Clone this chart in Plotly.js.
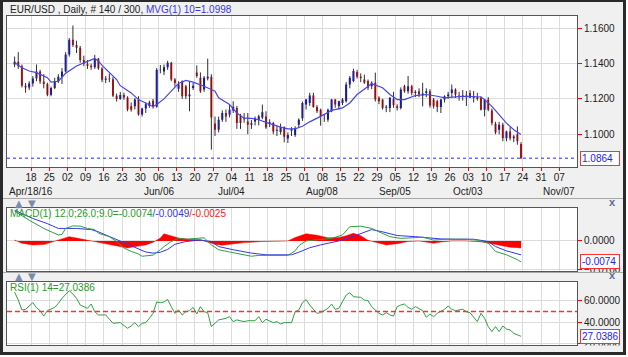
<!DOCTYPE html>
<html><head><meta charset="utf-8">
<script src="https://cdn.plot.ly/plotly-3.0.1.min.js"></script>
<style>
html,body{margin:0;padding:0;background:#ffffff;}
#wrap{position:relative;width:628px;height:357px;overflow:hidden;background:#ffffff;}
#chart{width:628px;height:357px;}
#frame{position:absolute;left:0;top:0;width:626px;height:355px;box-sizing:border-box;border:3px solid #2a2a2a;border-top-width:2px;pointer-events:none;}
#padr{position:absolute;left:626px;top:0;width:2px;height:357px;background:#ffffff;}
#padb{position:absolute;left:0;top:355px;width:628px;height:2px;background:#ffffff;}
</style></head><body>
<div id="wrap"><div id="chart"></div><div id="frame"></div><div id="padr"></div><div id="padb"></div></div>
<script>
const dates = [
"2016-04-11","2016-04-12","2016-04-13","2016-04-14","2016-04-15",
"2016-04-18","2016-04-19","2016-04-20","2016-04-21","2016-04-22",
"2016-04-25","2016-04-26","2016-04-27","2016-04-28","2016-04-29",
"2016-05-02","2016-05-03","2016-05-04","2016-05-05","2016-05-06",
"2016-05-09","2016-05-10","2016-05-11","2016-05-12","2016-05-13",
"2016-05-16","2016-05-17","2016-05-18","2016-05-19","2016-05-20",
"2016-05-23","2016-05-24","2016-05-25","2016-05-26","2016-05-27",
"2016-05-30","2016-05-31","2016-06-01","2016-06-02","2016-06-03",
"2016-06-06","2016-06-07","2016-06-08","2016-06-09","2016-06-10",
"2016-06-13","2016-06-14","2016-06-15","2016-06-16","2016-06-17",
"2016-06-20","2016-06-21","2016-06-22","2016-06-23","2016-06-24",
"2016-06-27","2016-06-28","2016-06-29","2016-06-30","2016-07-01",
"2016-07-04","2016-07-05","2016-07-06","2016-07-07","2016-07-08",
"2016-07-11","2016-07-12","2016-07-13","2016-07-14","2016-07-15",
"2016-07-18","2016-07-19","2016-07-20","2016-07-21","2016-07-22",
"2016-07-25","2016-07-26","2016-07-27","2016-07-28","2016-07-29",
"2016-08-01","2016-08-02","2016-08-03","2016-08-04","2016-08-05",
"2016-08-08","2016-08-09","2016-08-10","2016-08-11","2016-08-12",
"2016-08-15","2016-08-16","2016-08-17","2016-08-18","2016-08-19",
"2016-08-22","2016-08-23","2016-08-24","2016-08-25","2016-08-26",
"2016-08-29","2016-08-30","2016-08-31","2016-09-01","2016-09-02",
"2016-09-05","2016-09-06","2016-09-07","2016-09-08","2016-09-09",
"2016-09-12","2016-09-13","2016-09-14","2016-09-15","2016-09-16",
"2016-09-19","2016-09-20","2016-09-21","2016-09-22","2016-09-23",
"2016-09-26","2016-09-27","2016-09-28","2016-09-29","2016-09-30",
"2016-10-03","2016-10-04","2016-10-05","2016-10-06","2016-10-07",
"2016-10-10","2016-10-11","2016-10-12","2016-10-13","2016-10-14",
"2016-10-17","2016-10-18","2016-10-19","2016-10-20","2016-10-21"];

const openP = [
1.1395,1.1410,1.1385,1.1275,1.1265, 1.1287,1.1315,1.1355,1.1298,1.1285,
1.1223,1.1262,1.1300,1.1325,1.1355, 1.1452,1.1535,1.1505,1.1490,1.1420,
1.1400,1.1388,1.1380,1.1428,1.1373, 1.1308,1.1315,1.1312,1.1218,1.1200,
1.1222,1.1208,1.1158,1.1158,1.1196, 1.1112,1.1145,1.1160,1.1190,1.1155,
1.1366,1.1355,1.1380,1.1405,1.1310, 1.1258,1.1300,1.1272,1.1215,1.1262,
1.1350,1.1320,1.1253,1.1315,1.1326, 1.1060,1.1025,1.1082,1.1120,1.1110,
1.1135,1.1149,1.1105,1.1090,1.1072, 1.1053,1.1072,1.1082,1.1095,1.1100,
1.1060,1.1063,1.1020,1.1012,1.1040, 1.0975,1.1020,1.0996,1.1053,1.1091,
1.1168,1.1177,1.1219,1.1154,1.1139, 1.1092,1.1082,1.1130,1.1196,1.1158,
1.1177,1.1187,1.1282,1.1301,1.1352, 1.1325,1.1310,1.1301,1.1272,1.1291,
1.1206,1.1196,1.1150,1.1149,1.1200, 1.1158,1.1149,1.1272,1.1244,1.1272,
1.1234,1.1244,1.1220,1.1234,1.1244, 1.1196,1.1187,1.1154,1.1196,1.1215,
1.1234,1.1253,1.1220,1.1215,1.1220, 1.1234,1.1206,1.1210,1.1206,1.1139,
1.1196,1.1135,1.1059,1.1025,1.1053, 1.0977,1.1015,1.0977,1.1000,1.0945];
const highP = [
1.1440,1.1465,1.1395,1.1290,1.1300, 1.1330,1.1395,1.1365,1.1340,1.1292,
1.1270,1.1320,1.1340,1.1375,1.1465, 1.1545,1.1616,1.1530,1.1500,1.1445,
1.1420,1.1400,1.1450,1.1432,1.1380, 1.1330,1.1345,1.1325,1.1230,1.1240,
1.1235,1.1215,1.1180,1.1205,1.1215, 1.1150,1.1180,1.1190,1.1200,1.1375,
1.1392,1.1395,1.1416,1.1410,1.1318, 1.1300,1.1305,1.1280,1.1300,1.1290,
1.1390,1.1350,1.1330,1.1428,1.1340, 1.1100,1.1100,1.1135,1.1140,1.1165,
1.1187,1.1160,1.1115,1.1120,1.1120, 1.1080,1.1100,1.1110,1.1168,1.1130,
1.1085,1.1070,1.1045,1.1060,1.1045, 1.1010,1.1040,1.1045,1.1090,1.1185,
1.1200,1.1235,1.1235,1.1165,1.1145, 1.1110,1.1145,1.1200,1.1200,1.1190,
1.1205,1.1295,1.1330,1.1371,1.1365, 1.1345,1.1338,1.1310,1.1300,1.1349,
1.1215,1.1200,1.1165,1.1210,1.1240, 1.1170,1.1265,1.1280,1.1330,1.1280,
1.1250,1.1260,1.1291,1.1260,1.1255, 1.1205,1.1195,1.1200,1.1220,1.1240,
1.1282,1.1260,1.1240,1.1250,1.1245, 1.1250,1.1245,1.1235,1.1215,1.1200,
1.1210,1.1145,1.1070,1.1070,1.1065, 1.1020,1.1040,1.0995,1.1044,1.0955];
const lowP = [
1.1380,1.1370,1.1265,1.1235,1.1250, 1.1270,1.1300,1.1285,1.1260,1.1215,
1.1215,1.1255,1.1290,1.1285,1.1350, 1.1440,1.1495,1.1460,1.1405,1.1385,
1.1370,1.1365,1.1370,1.1365,1.1295, 1.1290,1.1295,1.1210,1.1185,1.1195,
1.1195,1.1130,1.1128,1.1140,1.1105, 1.1100,1.1120,1.1150,1.1145,1.1150,
1.1345,1.1335,1.1365,1.1300,1.1270, 1.1240,1.1200,1.1200,1.1130,1.1250,
1.1320,1.1234,1.1240,1.1305,1.0912, 1.0990,1.1010,1.1070,1.1070,1.1095,
1.1120,1.1030,1.1030,1.1065,1.1000, 1.1030,1.1050,1.1050,1.1085,1.1030,
1.1040,1.1000,1.0990,1.0998,1.0954, 1.0950,1.0990,1.0985,1.1040,1.1075,
1.1140,1.1160,1.1150,1.1120,1.1048, 1.1070,1.1070,1.1125,1.1150,1.1140,
1.1165,1.1180,1.1260,1.1295,1.1315, 1.1295,1.1285,1.1250,1.1255,1.1185,
1.1170,1.1140,1.1125,1.1125,1.1150, 1.1135,1.1140,1.1235,1.1230,1.1220,
1.1210,1.1210,1.1158,1.1210,1.1150, 1.1145,1.1125,1.1120,1.1180,1.1200,
1.1210,1.1205,1.1190,1.1190,1.1160, 1.1205,1.1180,1.1190,1.1135,1.1101,
1.1130,1.1050,1.1000,1.1000,1.0960, 1.0960,1.0965,1.0955,1.0940,1.0859];
const closeP = [
1.1410,1.1385,1.1275,1.1265,1.1287, 1.1315,1.1355,1.1298,1.1285,1.1223,
1.1262,1.1300,1.1325,1.1355,1.1452, 1.1535,1.1505,1.1490,1.1420,1.1400,
1.1388,1.1380,1.1428,1.1373,1.1308, 1.1315,1.1312,1.1218,1.1200,1.1222,
1.1208,1.1140,1.1138,1.1196,1.1112, 1.1145,1.1170,1.1180,1.1155,1.1366,
1.1362,1.1380,1.1405,1.1310,1.1290, 1.1282,1.1215,1.1215,1.1225,1.1275,
1.1330,1.1244,1.1320,1.1326,1.1095, 1.1025,1.1082,1.1120,1.1100,1.1139,
1.1155,1.1063,1.1063,1.1085,1.1053, 1.1062,1.1091,1.1101,1.1125,1.1038,
1.1068,1.1015,1.1025,1.1040,1.0985, 1.0995,1.1028,1.1034,1.1082,1.1177,
1.1196,1.1219,1.1154,1.1130,1.1101, 1.1090,1.1139,1.1196,1.1168,1.1187,
1.1196,1.1282,1.1320,1.1358,1.1326, 1.1318,1.1291,1.1263,1.1291,1.1196,
1.1187,1.1149,1.1155,1.1206,1.1165, 1.1149,1.1253,1.1244,1.1272,1.1234,
1.1240,1.1225,1.1230,1.1244,1.1162, 1.1158,1.1154,1.1196,1.1215,1.1225,
1.1253,1.1225,1.1215,1.1220,1.1210, 1.1206,1.1215,1.1200,1.1139,1.1196,
1.1139,1.1063,1.1010,1.1053,1.0977, 1.1015,1.0977,1.0987,1.0960,1.0864];

// 10-day moving average, read at selected bars (bar index -> value)
const maIdx  = [0,2,4,6,9,10,12,14,17,19,21,22,23,24,26,28,29,32,34,36,38,39,41,43,45,47,49,52,55,56,59,61,63,65,67,69,71,73,75,77,79,81,84,87,90,92,94,97,98,101,103,105,107,110,113,116,118,121,124,128,129,131,133,135,137,139];
const maVals = [1.1406,1.1377,1.1358,1.1349,1.1320,1.1295,1.1300,1.1345,1.1387,1.1406,1.1421,1.1429,1.1415,1.1390,1.1349,1.1310,1.1275,1.1234,1.1196,1.1177,1.1156,1.1168,1.1200,1.1244,1.1288,1.1305,1.1295,1.1272,1.1244,1.1206,1.1168,1.1120,1.1091,1.1090,1.1082,1.1067,1.1053,1.1040,1.1030,1.1030,1.1045,1.1070,1.1101,1.1135,1.1149,1.1177,1.1225,1.1272,1.1286,1.1263,1.1225,1.1196,1.1196,1.1219,1.1225,1.1215,1.1206,1.1211,1.1215,1.1211,1.1196,1.1158,1.1110,1.1063,1.1025,1.0998];

// MACD(12,26,9)
const macdIdx  = [0,2,4,8,10,12,13,14,16,18,20,22,23,26,28,30,32,34,35,37,38,40,41,43,45,47,50,52,54,56,59,62,65,67,70,73,75,77,78,80,84,87,90,92,95,98,100,103,106,109,112,115,118,121,124,127,130,132,135,138,139];
const macdVals = [0.0105,0.0088,0.0073,0.0044,0.0032,0.0021,0.0023,0.0044,0.0053,0.0052,0.0044,0.0040,0.0027,0.0015,-0.0002,-0.0025,-0.0037,-0.0046,-0.0054,-0.0052,-0.0050,-0.0031,-0.0020,-0.0002,0.0009,0.0006,0.0009,0.0011,-0.0014,-0.0031,-0.0039,-0.0046,-0.0054,-0.0051,-0.0051,-0.0052,-0.0051,-0.0035,-0.0017,0.0000,0.0005,0.0009,0.0021,0.0050,0.0052,0.0044,0.0032,0.0015,0.0009,0.0012,0.0013,0.0003,0.0006,0.0006,0.0006,0.0003,-0.0008,-0.0037,-0.0049,-0.0066,-0.0074];
const sigIdx  = [0,5,9,12,17,21,23,26,29,33,36,38,40,42,44,47,51,54,56,60,65,69,74,76,78,81,84,89,94,98,101,105,110,113,117,121,126,130,132,135,139];
const sigVals = [0.0108,0.0079,0.0061,0.0044,0.0044,0.0040,0.0032,0.0015,-0.0002,-0.0023,-0.0039,-0.0043,-0.0040,-0.0030,-0.0012,-0.0002,0.0003,-0.0002,-0.0020,-0.0031,-0.0043,-0.0049,-0.0050,-0.0049,-0.0040,-0.0024,-0.0014,0.0000,0.0021,0.0040,0.0032,0.0019,0.0015,0.0012,0.0007,0.0006,0.0006,-0.0002,-0.0020,-0.0035,-0.0049];
const histIdx  = [0,2,5,8,10,12,14,15,17,19,21,23,25,28,31,34,36,38,40,41,43,45,48,51,52,55,57,60,63,68,72,75,77,80,83,86,89,91,93,95,97,100,102,105,108,111,115,117,120,124,128,131,134,136,139];
const histVals = [0.0003,-0.0008,-0.0014,-0.0013,-0.0005,0.0004,0.0012,0.0015,0.0010,0.0005,0.0000,-0.0007,-0.0010,-0.0018,-0.0025,-0.0018,-0.0014,-0.0005,0.0010,0.0025,0.0018,0.0010,0.0006,0.0004,0.0000,-0.0012,-0.0015,-0.0010,-0.0006,-0.0002,-0.0002,0.0000,0.0012,0.0025,0.0020,0.0011,0.0012,0.0018,0.0027,0.0018,0.0002,-0.0008,-0.0014,-0.0010,-0.0002,0.0000,-0.0008,-0.0004,0.0000,0.0000,-0.0003,-0.0010,-0.0017,-0.0022,-0.0025];

// RSI(14)
const rsiIdx  = [0,1,2,3,5,6,7,8,9,11,12,13,15,16,17,18,19,20,21,22,23,25,27,28,29,31,32,33,34,35,36,37,38,39,40,41,42,43,44,45,46,47,48,49,50,51,52,53,54,55,56,58,59,60,61,63,64,66,67,68,69,71,72,73,74,76,77,78,79,80,81,83,84,86,87,88,89,90,91,92,93,95,96,97,98,100,101,102,103,104,105,106,107,108,109,110,112,113,114,115,116,118,119,120,121,123,124,125,126,127,128,129,130,131,132,133,134,135,136,137,139];
const rsiVals = [68.0,60.6,51.4,52.0,58.2,53.5,50.8,45.8,50.8,53.8,57.5,62.2,69.2,66.2,62.2,56.0,54.5,52.9,56.9,49.8,46.8,46.8,39.1,39.7,39.7,34.5,36.6,39.7,36.0,39.1,39.7,43.7,48.3,58.8,58.2,58.8,61.2,54.5,48.3,51.4,46.8,49.8,50.8,53.8,47.7,54.5,49.8,48.9,36.0,39.1,42.2,43.7,45.2,40.6,42.2,40.6,41.5,41.5,45.2,39.7,42.8,39.7,40.6,38.5,39.7,39.7,49.8,51.4,58.2,61.0,56.0,48.3,48.9,52.9,56.9,52.0,52.9,59.1,65.2,67.4,63.7,63.1,60.6,60.0,54.5,48.3,46.8,48.9,46.8,45.8,54.5,56.0,56.9,53.8,52.0,54.5,50.8,44.6,47.7,45.2,48.3,52.0,55.1,52.0,50.8,52.0,49.8,48.9,45.2,40.6,48.3,43.7,36.0,31.4,36.0,31.4,36.6,33.8,32.9,29.8,27.0386];

const tickDates = ["2016-04-18","2016-04-25","2016-05-02","2016-05-09","2016-05-16","2016-05-23","2016-05-30","2016-06-06","2016-06-13","2016-06-20","2016-06-27","2016-07-04","2016-07-11","2016-07-18","2016-07-25","2016-08-01","2016-08-08","2016-08-15","2016-08-22","2016-08-29","2016-09-05","2016-09-12","2016-09-19","2016-09-26","2016-10-03","2016-10-10","2016-10-17","2016-10-24","2016-10-31","2016-11-07"];
const monthLabelDates = ["2016-04-18","2016-06-06","2016-07-04","2016-08-08","2016-09-05","2016-10-03","2016-11-07"];
const monthLabelTexts = ["Apr/18/16","Jun/06","Jul/04","Aug/08","Sep/05","Oct/03","Nov/07"];
const priceTicks = [1.10,1.12,1.14,1.16];
const macdTicks = [-0.01,0];
const rsiTicks = [20,40,60];

// ---------------------------------------------------------------
const FONT = "'Liberation Sans', Arial, sans-serif";
const xs = dates.map(d => d + " 12:00");
const pick = (idx) => idx.map(i => xs[i]);
const bodyHigh = openP.map((o,i) => Math.max(o, closeP[i]));
const bodyLow  = openP.map((o,i) => Math.min(o, closeP[i]));
const lastClose = closeP[closeP.length-1];
const lastMA = maVals[maVals.length-1];
const lastMacd = macdVals[macdVals.length-1];
const lastSig = sigVals[sigVals.length-1];
const lastHist = histVals[histVals.length-1];
const lastRsi = rsiVals[rsiVals.length-1];

const GRID = '#dcdcdc', FRAME = '#555555';
const xRange = ["2016-04-07 09:50","2016-11-11 20:40"];
const xCommon = {
  type:'date', range:xRange, rangebreaks:[{bounds:['sat','mon']}],
  tickvals:tickDates, tickformat:'%d', showgrid:true, gridcolor:GRID, gridwidth:1,
  showline:true, mirror:true, linecolor:FRAME, linewidth:1, zeroline:false,
  rangeslider:{visible:false}, fixedrange:true
};
const yCommon = {
  side:'right', tickformat:'.4f', ticks:'outside', ticklen:4, tickcolor:'#ff0000', tickwidth:1,
  showgrid:true, gridcolor:GRID, showline:true, mirror:true, linecolor:FRAME, linewidth:1,
  zeroline:false, fixedrange:true, tickfont:{size:10, color:'#222'}
};

const Y = v => (345 - v) / 329;   // pixel row -> paper y
const X = v => (v - 7) / 570;     // pixel col -> paper x

const traces = [
  {type:'ohlc', x:xs, open:openP, high:highP, low:lowP, close:closeP, tickwidth:0,
   increasing:{line:{color:'#303030', width:1}}, decreasing:{line:{color:'#303030', width:1}},
   hoverinfo:'skip', xaxis:'x', yaxis:'y'},
  {type:'candlestick', x:xs, open:openP, high:bodyHigh, low:bodyLow, close:closeP, whiskerwidth:0,
   increasing:{line:{color:'#0000ff', width:0}, fillcolor:'#0000ff'},
   decreasing:{line:{color:'#ff0000', width:0}, fillcolor:'#ff0000'},
   hoverinfo:'skip', xaxis:'x', yaxis:'y'},
  {type:'scatter', mode:'lines', x:pick(maIdx), y:maVals, line:{color:'#4646e6', width:1.2}, hoverinfo:'skip', xaxis:'x', yaxis:'y'},
  {type:'scatter', mode:'lines', x:pick(histIdx), y:histVals, fill:'tozeroy', fillcolor:'#ff0000', line:{color:'#ff0000', width:0.5}, hoverinfo:'skip', xaxis:'x2', yaxis:'y2'},
  {type:'scatter', mode:'lines', x:pick(sigIdx), y:sigVals, line:{color:'#3535f0', width:1}, hoverinfo:'skip', xaxis:'x2', yaxis:'y2'},
  {type:'scatter', mode:'lines', x:pick(macdIdx), y:macdVals, line:{color:'#2ea043', width:1}, hoverinfo:'skip', xaxis:'x2', yaxis:'y2'},
  {type:'scatter', mode:'lines', x:pick(rsiIdx), y:rsiVals, line:{color:'#2ea043', width:1}, hoverinfo:'skip', xaxis:'x3', yaxis:'y3'}
];

const boxAnn = (text, yref, y) => ({
  text, xref:'paper', x:X(579.5), xanchor:'left', yref, y, yanchor:'middle', showarrow:false,
  bgcolor:'#ffffff', bordercolor:'#ff3030', borderwidth:1, borderpad:1, width:36, align:'left',
  font:{family:FONT, size:10, color:'#2020ff'}
});

const annotations = [
  {text:"EUR/USD , Daily, # " + closeP.length + " / 300, <span style='color:#3535f0'>MVG(1) 10=" + lastMA.toFixed(4) + "</span>",
   xref:'paper', x:X(8), xanchor:'left', yref:'paper', y:Y(10), yanchor:'middle', showarrow:false,
   font:{family:FONT, size:10, color:'#222'}},
  {text:"<span style='color:#2a9a2a'>MACD(1) 12.0;26.0;9.0=" + lastMacd.toFixed(4) + "</span><span style='color:#3535f0'>/" + lastSig.toFixed(4) + "</span><span style='color:#ff2020'>/" + lastHist.toFixed(4) + "</span>",
   xref:'paper', x:X(8), xanchor:'left', yref:'paper', y:Y(214), yanchor:'middle', showarrow:false,
   font:{family:FONT, size:10}},
  {text:"RSI(1) 14=" + lastRsi.toFixed(4),
   xref:'paper', x:X(8), xanchor:'left', yref:'paper', y:Y(287), yanchor:'middle', showarrow:false,
   font:{family:FONT, size:10, color:'#2a9a2a'}},
  boxAnn(lastClose.toFixed(4), 'y', lastClose),
  boxAnn(lastMacd.toFixed(4), 'y2', lastMacd),
  boxAnn(lastRsi.toFixed(4), 'y3', lastRsi)
];
monthLabelDates.forEach((d,i) => annotations.push({
  text:monthLabelTexts[i], xref:'x', x:d, xanchor:'center', yref:'paper', y:Y(191), yanchor:'middle',
  showarrow:false, font:{family:FONT, size:10, color:'#222'}
}));
[203.5, 276.5].forEach(py => {
  annotations.push({text:'▲', xref:'paper', x:X(19), xanchor:'center', yref:'paper', y:Y(py), yanchor:'middle', showarrow:false, font:{family:'DejaVu Sans', size:10, color:'#7a8bb0'}});
  annotations.push({text:'▼', xref:'paper', x:X(31.5), xanchor:'center', yref:'paper', y:Y(py), yanchor:'middle', showarrow:false, font:{family:'DejaVu Sans', size:10, color:'#7a8bb0'}});
  annotations.push({text:'<b>x</b>', xref:'paper', x:X(612), xanchor:'center', yref:'paper', y:Y(py-1.5), yanchor:'middle', showarrow:false, font:{family:FONT, size:11, color:'#5a6a9a'}});
});

const shapes = [
  {type:'line', xref:'paper', x0:0, x1:1, yref:'y', y0:lastClose, y1:lastClose, line:{color:'#2828ff', width:1, dash:'3px,3px'}},
  {type:'line', xref:'paper', x0:0, x1:1, yref:'y3', y0:50, y1:50, line:{color:'#ff3030', width:1.5, dash:'5px,3px'}},
  {type:'rect', xref:'paper', yref:'paper', x0:X(578), x1:X(626), y0:Y(281), y1:Y(272), fillcolor:'#f0f0f0', line:{width:0}, layer:'above'},
  {type:'rect', xref:'paper', yref:'paper', x0:X(578), x1:X(626), y0:Y(357), y1:Y(345.6), fillcolor:'#f0f0f0', line:{width:0}, layer:'above'},
  {type:'line', xref:'paper', yref:'paper', x0:X(3), x1:X(623), y0:Y(198.5), y1:Y(198.5), line:{color:'#a8a8a8', width:1}, layer:'above'},
  {type:'line', xref:'paper', yref:'paper', x0:X(3), x1:X(623), y0:Y(272.5), y1:Y(272.5), line:{color:'#a8a8a8', width:1}, layer:'above'}
];

const layout = {
  width:628, height:357, margin:{l:7, r:51, t:16, b:12, pad:0},
  paper_bgcolor:'#f0f0f0', plot_bgcolor:'#ffffff', showlegend:false,
  font:{family:FONT, size:10, color:'#222'}, boxgap:0.22,
  xaxis: Object.assign({}, xCommon, {anchor:'y', ticks:'outside', ticklen:3, tickcolor:'#ff0000', showticklabels:true, ticklabelstandoff:-2, tickfont:{size:10, color:'#222'}}),
  xaxis2: Object.assign({}, xCommon, {anchor:'y2', matches:'x', ticks:'', showticklabels:false}),
  xaxis3: Object.assign({}, xCommon, {anchor:'y3', matches:'x', ticks:'', showticklabels:false}),
  yaxis: Object.assign({}, yCommon, {domain:[Y(167),1], range:[1.0814,1.1670], tickvals:priceTicks}),
  yaxis2: Object.assign({}, yCommon, {domain:[Y(271),Y(208)], range:[-0.0106,0.0116], tickvals:macdTicks}),
  yaxis3: Object.assign({}, yCommon, {domain:[0,Y(282)], range:[19,77.3], tickvals:rsiTicks}),
  annotations, shapes
};

Plotly.newPlot('chart', traces, layout, {staticPlot:true, displayModeBar:false});
</script>
</body></html>
